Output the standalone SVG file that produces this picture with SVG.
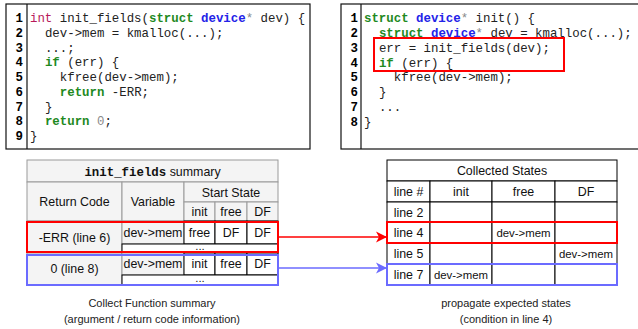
<svg xmlns="http://www.w3.org/2000/svg" width="638" height="329" viewBox="0 0 638 329">
  <defs>
    <style>
      .code { font-family: "Liberation Mono", "Courier New", monospace; font-size: 12.4px; fill: #222; }
      .ln { font-family: "Liberation Mono", "Courier New", monospace; font-size: 12.4px; font-weight: bold; fill: #000; text-anchor: end; }
      .kw { fill: #1f8a1f; font-weight: bold; }
      .ty { fill: #2323e8; font-weight: bold; }
      .ti { fill: #b8195a; }
      .dim { fill: #8a8a8a; }
      .box { fill: #fff; stroke: #111; stroke-width: 1.2; }
      .t { font-family: "Liberation Sans", Arial, sans-serif; font-size: 12.4px; fill: #111; text-anchor: middle; }
      .ts { font-family: "Liberation Sans", Arial, sans-serif; font-size: 11.4px; fill: #111; text-anchor: middle; }
      .cap { font-family: "Liberation Sans", Arial, sans-serif; font-size: 11px; fill: #222; text-anchor: middle; }
      .hd { fill: #f4f4f4; stroke: #9a9a9a; stroke-width: 1; }
      .cell { fill: #fff; stroke: #000; stroke-width: 1; }
      .hl-red { fill: none; stroke: #ff0000; stroke-width: 2; }
      .hl-blue { fill: none; stroke: #6b6bff; stroke-width: 2; }
    </style>
    <marker id="arrow-red" markerWidth="12" markerHeight="12" refX="11" refY="6" orient="auto" markerUnits="userSpaceOnUse">
      <path d="M0,0.5 L11,6 L0,11.5 L3,6 z" fill="#ff0000"/>
    </marker>
    <marker id="arrow-blue" markerWidth="12" markerHeight="12" refX="11" refY="6" orient="auto" markerUnits="userSpaceOnUse">
      <path d="M0,0.5 L11,6 L0,11.5 L3,6 z" fill="#6b6bff"/>
    </marker>
  </defs>

  <!-- callee source: init_fields -->
  <g id="code-init-fields">
    <rect class="box" x="6" y="4" width="304" height="145"/>
    <line x1="27" y1="4" x2="27" y2="149" stroke="#111" stroke-width="1.2"/>
    <g class="ln">
      <text x="23" y="22">1</text>
      <text x="23" y="36.75">2</text>
      <text x="23" y="51.5">3</text>
      <text x="23" y="66.25">4</text>
      <text x="23" y="81">5</text>
      <text x="23" y="95.75">6</text>
      <text x="23" y="110.5">7</text>
      <text x="23" y="125.25">8</text>
      <text x="23" y="140">9</text>
    </g>
    <g class="code" xml:space="preserve">
      <text x="30" y="22"><tspan class="ti">int</tspan> init_fields(<tspan class="kw">struct</tspan> <tspan class="ty">device</tspan><tspan class="dim">*</tspan> dev) {</text>
      <text x="44.9" y="36.75">dev-&gt;mem = kmalloc(...);</text>
      <text x="44.9" y="51.5">...;</text>
      <text x="44.9" y="66.25"><tspan class="kw">if</tspan> (err) {</text>
      <text x="59.8" y="81">kfree(dev-&gt;mem);</text>
      <text x="59.8" y="95.75"><tspan class="kw">return</tspan> -ERR;</text>
      <text x="44.9" y="110.5">}</text>
      <text x="44.9" y="125.25"><tspan class="kw">return</tspan> <tspan class="dim">0</tspan>;</text>
      <text x="30" y="140">}</text>
    </g>
  </g>

  <!-- caller source: init -->
  <g id="code-init">
    <rect class="box" x="341" y="4" width="300" height="145"/>
    <line x1="361" y1="4" x2="361" y2="149" stroke="#111" stroke-width="1.2"/>
    <g class="ln">
      <text x="358" y="22">1</text>
      <text x="358" y="36.85">2</text>
      <text x="358" y="51.7">3</text>
      <text x="358" y="66.55">4</text>
      <text x="358" y="81.4">5</text>
      <text x="358" y="96.25">6</text>
      <text x="358" y="111.1">7</text>
      <text x="358" y="125.95">8</text>
    </g>
    <g class="code" xml:space="preserve">
      <text x="364" y="22"><tspan class="kw">struct</tspan> <tspan class="ty">device</tspan><tspan class="dim">*</tspan> init() {</text>
      <text x="378.9" y="36.85"><tspan class="kw">struct</tspan> <tspan class="ty">device</tspan><tspan class="dim">*</tspan> dev = kmalloc(...);</text>
      <text x="378.9" y="51.7">err = init_fields(dev);</text>
      <text x="378.9" y="66.55"><tspan class="kw">if</tspan> (err) {</text>
      <text x="393.8" y="81.4">kfree(dev-&gt;mem);</text>
      <text x="378.9" y="96.25">}</text>
      <text x="378.9" y="111.1">...</text>
      <text x="364" y="125.95">}</text>
    </g>
    <rect class="hl-red" x="374" y="38" width="190" height="33"/>
  </g>

  <!-- function summary table -->
  <g id="summary-table">
    <rect class="hd" x="27" y="160" width="251" height="22"/>
    <rect class="hd" x="27" y="182" width="95" height="39"/>
    <rect class="hd" x="122" y="182" width="62" height="39"/>
    <rect class="hd" x="184" y="182" width="94" height="20"/>
    <rect class="hd" x="184" y="202" width="31" height="19"/>
    <rect class="hd" x="215" y="202" width="32" height="19"/>
    <rect class="hd" x="247" y="202" width="31" height="19"/>
    <rect class="hd" x="27" y="221" width="95" height="32"/>
    <rect class="hd" x="27" y="253" width="95" height="32"/>
    <rect class="hd" x="122" y="221" width="62" height="23"/>
    <rect class="cell" x="184" y="221" width="31" height="23"/>
    <rect class="cell" x="215" y="221" width="32" height="23"/>
    <rect class="cell" x="247" y="221" width="31" height="23"/>
    <rect class="cell" x="122" y="244" width="156" height="9"/>
    <rect class="hd" x="122" y="253" width="62" height="22"/>
    <rect class="cell" x="184" y="253" width="31" height="22"/>
    <rect class="cell" x="215" y="253" width="32" height="22"/>
    <rect class="cell" x="247" y="253" width="31" height="22"/>
    <rect class="cell" x="122" y="275" width="156" height="10"/>

    <text class="t" x="152.5" y="175.5"><tspan font-family="Liberation Mono, monospace" font-weight="bold">init_fields</tspan> summary</text>
    <text class="t" x="74.5" y="206">Return Code</text>
    <text class="t" x="153" y="206">Variable</text>
    <text class="t" x="231" y="196.5">Start State</text>
    <text class="t" x="199.5" y="216">init</text>
    <text class="t" x="231" y="216">free</text>
    <text class="t" x="262.5" y="216">DF</text>

    <text class="t" x="74.5" y="241.5">-ERR (line 6)</text>
    <text class="t" x="153" y="237">dev-&gt;mem</text>
    <text class="t" x="199.5" y="237">free</text>
    <text class="t" x="231" y="237">DF</text>
    <text class="t" x="262.5" y="237">DF</text>
    <text class="ts" x="200" y="250" font-size="9">...</text>

    <text class="t" x="74.5" y="273">0 (line 8)</text>
    <text class="t" x="153" y="268">dev-&gt;mem</text>
    <text class="t" x="199.5" y="268">init</text>
    <text class="t" x="231" y="268">free</text>
    <text class="t" x="262.5" y="268">DF</text>
    <text class="ts" x="200" y="282" font-size="9">...</text>

    <rect class="hl-red" x="27" y="222" width="251" height="30"/>
    <rect class="hl-blue" x="27" y="255" width="251" height="30"/>

    <text class="cap" x="152" y="307">Collect Function summary</text>
    <text class="cap" x="152" y="323">(argument / return code information)</text>
  </g>

  <!-- collected states table -->
  <g id="states-table">
    <rect class="cell" x="387" y="160" width="230" height="21"/>
    <g>
      <rect class="cell" x="387" y="181" width="43" height="21"/>
      <rect class="cell" x="430" y="181" width="62" height="21"/>
      <rect class="cell" x="492" y="181" width="63" height="21"/>
      <rect class="cell" x="555" y="181" width="62" height="21"/>
      <rect class="cell" x="387" y="202" width="43" height="20"/>
      <rect class="cell" x="430" y="202" width="62" height="20"/>
      <rect class="cell" x="492" y="202" width="63" height="20"/>
      <rect class="cell" x="555" y="202" width="62" height="20"/>
      <rect class="cell" x="387" y="222" width="43" height="21"/>
      <rect class="cell" x="430" y="222" width="62" height="21"/>
      <rect class="cell" x="492" y="222" width="63" height="21"/>
      <rect class="cell" x="555" y="222" width="62" height="21"/>
      <rect class="cell" x="387" y="243" width="43" height="21"/>
      <rect class="cell" x="430" y="243" width="62" height="21"/>
      <rect class="cell" x="492" y="243" width="63" height="21"/>
      <rect class="cell" x="555" y="243" width="62" height="21"/>
      <rect class="cell" x="387" y="264" width="43" height="21"/>
      <rect class="cell" x="430" y="264" width="62" height="21"/>
      <rect class="cell" x="492" y="264" width="63" height="21"/>
      <rect class="cell" x="555" y="264" width="62" height="21"/>
    </g>
    <text class="t" x="502" y="175">Collected States</text>
    <text class="t" x="408.5" y="196">line #</text>
    <text class="t" x="461" y="196">init</text>
    <text class="t" x="523.5" y="196">free</text>
    <text class="t" x="586" y="196">DF</text>
    <text class="t" x="408.5" y="216.5">line 2</text>
    <text class="t" x="408.5" y="237">line 4</text>
    <text class="t" x="408.5" y="258">line 5</text>
    <text class="t" x="408.5" y="279">line 7</text>
    <text class="ts" x="523.5" y="237">dev-&gt;mem</text>
    <text class="ts" x="586" y="258">dev-&gt;mem</text>
    <text class="ts" x="461" y="279">dev-&gt;mem</text>

    <rect class="hl-red" x="387" y="222" width="230" height="21"/>
    <rect class="hl-blue" x="387" y="264" width="230" height="21"/>

    <text class="cap" x="506" y="307">propagate expected states</text>
    <text class="cap" x="506" y="323">(condition in line 4)</text>
  </g>

  <!-- connectors -->
  <g id="connectors">
    <line x1="279" y1="237" x2="387" y2="237" stroke="#ff0000" stroke-width="1.5" marker-end="url(#arrow-red)"/>
    <line x1="279" y1="268" x2="387" y2="268" stroke="#6b6bff" stroke-width="1.5" marker-end="url(#arrow-blue)"/>
  </g>
</svg>
